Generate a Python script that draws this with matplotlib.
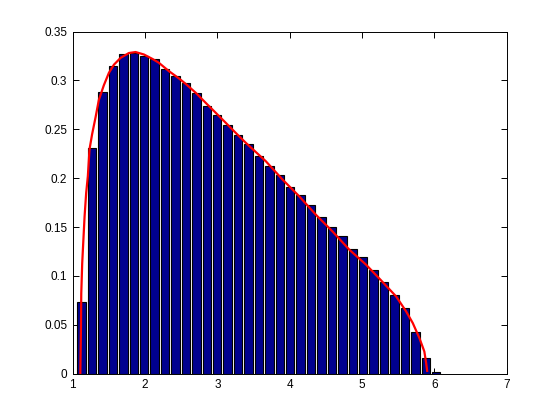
import numpy as np
import matplotlib
matplotlib.use('Agg')
import matplotlib.pyplot as plt

# histogram bin grid (first and last bin centre, number of bins)
first_center = 1.122
last_center = 6.024
n_bins = 35

# normalised bar heights
bar_heights = [0.073, 0.231, 0.2886, 0.3145, 0.327, 0.328, 0.325, 0.3214, 0.312,
               0.305, 0.297, 0.287, 0.274, 0.265, 0.2545, 0.244, 0.235, 0.2226,
               0.2126, 0.2037, 0.191, 0.183, 0.1727, 0.1607, 0.1504, 0.1412,
               0.1276, 0.1197, 0.1064, 0.094, 0.0808, 0.0672, 0.043, 0.0164, 0.002]

# red density curve
curve_x = [1.104, 1.113, 1.117, 1.13, 1.145, 1.163, 1.185, 1.208, 1.231, 1.267,
           1.314, 1.36, 1.429, 1.499, 1.568, 1.66, 1.776, 1.868, 1.983, 2.1,
           2.19, 2.33, 2.468, 2.56, 2.7, 2.838, 2.977, 3.115, 3.253, 3.39,
           3.669, 3.9, 4.13, 4.36, 4.59, 4.823, 5.054, 5.262, 5.47, 5.608,
           5.7, 5.792, 5.86, 5.885, 5.899]
curve_y = [0.0, 0.048, 0.082, 0.113, 0.135, 0.161, 0.185, 0.202, 0.2295, 0.245,
           0.262, 0.28, 0.295, 0.3077, 0.316, 0.323, 0.328, 0.329, 0.3265, 0.322,
           0.318, 0.3094, 0.302, 0.2965, 0.2873, 0.277, 0.2668, 0.2566, 0.2463, 0.2363,
           0.2173, 0.1986, 0.1815, 0.1627, 0.1456, 0.1269, 0.1116, 0.0955, 0.0791, 0.0638,
           0.0519, 0.0365, 0.0228, 0.011, 0.003]

x_ticks = [1, 2, 3, 4, 5, 6, 7]
y_ticks = [0, 0.05, 0.1, 0.15, 0.2, 0.25, 0.3, 0.35]

plt.rcParams['font.family'] = ['Liberation Sans', 'DejaVu Sans']

centers = np.linspace(first_center, last_center, n_bins)
spacing = centers[1] - centers[0]

fig = plt.figure(figsize=(5.6, 4.2), dpi=100)
ax = fig.add_axes([0.13, 0.11, 0.775, 0.815])
ax.bar(centers, bar_heights, width=0.8 * spacing, color=(0, 0, 0.5625),
       edgecolor='black', linewidth=0.8, zorder=2)
ax.plot(curve_x, curve_y, color='red', linewidth=1.6, zorder=3)

ax.set_xlim(1, 7)
ax.set_ylim(0, 0.35)
ax.set_xticks(x_ticks)
ax.set_yticks(y_ticks)
ax.set_xticklabels(['%g' % t for t in x_ticks])
ax.set_yticklabels(['%g' % t for t in y_ticks])
ax.tick_params(direction='in', top=True, right=True, length=4, width=0.7,
               labelsize=8.5, pad=4)
for s in ax.spines.values():
    s.set_linewidth(0.7)

fig.savefig('out.png', dpi=100)
